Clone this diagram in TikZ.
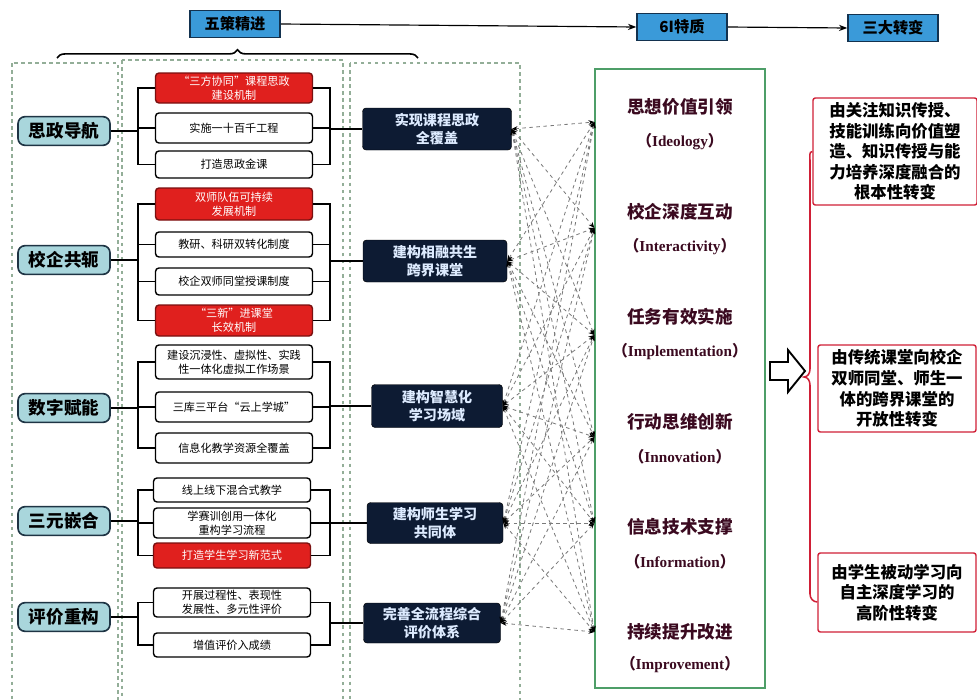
\documentclass[tikz,border=0pt]{standalone}
\usepackage{fontspec}
\setmainfont{Noto Sans CJK SC}
\newfontfamily\enserif{Liberation Serif}
\usetikzlibrary{arrows.meta,decorations.pathreplacing}
\definecolor{hdrfill}{HTML}{3A9AD9}
\definecolor{hdrdraw}{HTML}{13324F}
\definecolor{leftfill}{HTML}{A9D6DC}
\definecolor{leftdraw}{HTML}{1E3444}
\definecolor{redfill}{HTML}{E0201E}
\definecolor{reddraw}{HTML}{7A1010}
\definecolor{darkfill}{HTML}{0D1B33}
\definecolor{darktext}{HTML}{DDEBFF}
\definecolor{greenline}{HTML}{4E9E68}
\definecolor{dboxline}{HTML}{93AE98}
\definecolor{maroon}{HTML}{3B0A20}
\definecolor{redline}{HTML}{D01F36}
\definecolor{webline}{HTML}{7A7A7A}
\begin{document}
\begin{tikzpicture}[x=0.03cm,y=-0.03cm,
  hdr/.style={draw=hdrdraw,line width=1.3pt,fill=hdrfill,minimum width=2.7cm,minimum height=0.8cm,inner sep=1pt,font=\fontsize{13}{15}\bfseries\selectfont},
  leftnode/.style={draw=leftdraw,line width=1.4pt,fill=leftfill,rounded corners=6pt,minimum width=2.76cm,minimum height=0.86cm,inner sep=1pt,font=\fontsize{15}{17}\bfseries\selectfont},
  wbox/.style={draw=black,line width=1.2pt,fill=white,rounded corners=3pt,minimum width=4.71cm,inner sep=1pt,align=center,font=\fontsize{9.5}{12}\selectfont},
  rbox/.style={wbox,draw=reddraw,fill=redfill,text=white},
  dbox/.style={draw=black,fill=darkfill,rounded corners=3pt,text=darktext,inner sep=1pt,align=center,font=\fontsize{12}{15.5}\bfseries\selectfont},
  cont/.style={draw=dboxline,dashed,line width=0.9pt},
  bus/.style={draw=black,line width=1.1pt},
  web/.style={draw=webline,dashed,line width=0.7pt,{Stealth[length=5pt,width=4pt,black]}-{Stealth[length=5pt,width=4pt,black]}},
  cn/.style={text=maroon,font=\fontsize{15}{17}\bfseries\selectfont},
  en/.style={text=maroon,font=\fontsize{13}{15}\bfseries\selectfont},
  outbox/.style={draw=redline,line width=1.2pt,fill=white,rounded corners=2pt,align=center,inner sep=1pt,font=\fontsize{14}{17.6}\bfseries\selectfont}
]
\useasboundingbox (0,0) rectangle (977,700);
\fill[white] (0,0) rectangle (977,700);

% header
\node[hdr] (h1) at (235,24) {五策精进};
\node[hdr] (h2) at (682,27) {6I特质};
\node[hdr] (h3) at (893,28) {三大转变};
\draw[line width=1pt,-{Stealth[length=7pt]}] (h1.east) -- (h2.west);
\draw[line width=1pt,-{Stealth[length=7pt]}] (h2.east) -- (h3.west);
\coordinate (bra) at (57,58);
\coordinate (brb) at (418,58);
\draw[line width=1.4pt,decorate,decoration={brace,amplitude=7pt}] (bra) -- (brb);

% dashed containers
\draw[cont] (12,63) rectangle (118,712);
\draw[cont] (122,60) rectangle (343,712);
\draw[cont] (350,63) rectangle (520,712);

% left nodes
\node[leftnode] (l1) at (64,131) {思政导航};
\node[leftnode] (l2) at (64,260) {校企共轭};
\node[leftnode] (l3) at (64,408) {数字赋能};
\node[leftnode] (l4) at (64,521) {三元嵌合};
\node[leftnode] (l5) at (64,617) {评价重构};

% middle boxes
\node[rbox,minimum height=0.9cm] (m11) at (234,88) {“三方协同”课程思政\\建设机制};
\node[wbox,minimum height=0.9cm] (m12) at (234,128) {实施一十百千工程};
\node[wbox,minimum height=0.81cm] (m13) at (234,164.5) {打造思政金课};
\node[rbox,minimum height=0.96cm] (m21) at (234,204) {双师队伍可持续\\发展机制};
\node[wbox,minimum height=0.75cm] (m22) at (234,244.5) {教研、科研双转化制度};
\node[wbox,minimum height=0.81cm] (m23) at (234,281.5) {校企双师同堂授课制度};
\node[rbox,minimum height=0.93cm] (m24) at (234,320.5) {“三新”进课堂\\长效机制};
\node[wbox,minimum height=1.02cm] (m31) at (234,362) {建设沉浸性、虚拟性、实践\\性一体化虚拟工作场景};
\node[wbox,minimum height=0.9cm] (m32) at (234,407) {三库三平台“云上学城”};
\node[wbox,minimum height=0.9cm] (m33) at (234,448) {信息化教学资源全覆盖};
\node[wbox,minimum height=0.72cm] (m41) at (232,490) {线上线下混合式教学};
\node[wbox,minimum height=0.9cm] (m42) at (232,523) {学赛训创用一体化\\重构学习流程};
\node[rbox,minimum height=0.75cm] (m43) at (232,555.5) {打造学生学习新范式};
\node[wbox,minimum height=0.87cm] (m51) at (232,602.5) {开展过程性、表现性\\发展性、多元性评价};
\node[wbox,minimum height=0.72cm] (m52) at (232,645) {增值评价入成绩};

% dark boxes
\node[dbox,minimum width=4.47cm,minimum height=1.26cm] (d1) at (437,129) {实现课程思政\\全覆盖};
\node[dbox,minimum width=4.32cm,minimum height=1.26cm] (d2) at (435,261) {建构相融共生\\跨界课堂};
\node[dbox,minimum width=3.93cm,minimum height=1.29cm] (d3) at (437,406) {建构智慧化\\学习场域};
\node[dbox,minimum width=4.08cm,minimum height=1.23cm] (d4) at (435,523) {建构师生学习\\共同体};
\node[dbox,minimum width=4.11cm,minimum height=1.2cm] (d5) at (432,623) {完善全流程综合\\评价体系};

% buses
\coordinate (bl) at (138,0);
\coordinate (br) at (330,0);
\draw[bus] (l1.east) -- (l1.east -| bl);
\draw[bus] (m11.west) -- (m11.west -| bl) -- (m13.west -| bl) -- (m13.west);
\draw[bus] (m12.west) -- (m12.west -| bl);
\draw[bus] (m11.east) -- (m11.east -| br) -- (m13.east -| br) -- (m13.east);
\draw[bus] (m12.east) -- (m12.east -| br);
\draw[bus] (d1.west -| br) -- (d1.west);

\draw[bus] (l2.east) -- (l2.east -| bl);
\draw[bus] (m21.west) -- (m21.west -| bl) -- (m24.west -| bl) -- (m24.west);
\draw[bus] (m22.west) -- (m22.west -| bl);
\draw[bus] (m23.west) -- (m23.west -| bl);
\draw[bus] (m21.east) -- (m21.east -| br) -- (m24.east -| br) -- (m24.east);
\draw[bus] (m22.east) -- (m22.east -| br);
\draw[bus] (m23.east) -- (m23.east -| br);
\draw[bus] (d2.west -| br) -- (d2.west);

\draw[bus] (l3.east) -- (l3.east -| bl);
\draw[bus] (m31.west) -- (m31.west -| bl) -- (m33.west -| bl) -- (m33.west);
\draw[bus] (m32.west) -- (m32.west -| bl);
\draw[bus] (m31.east) -- (m31.east -| br) -- (m33.east -| br) -- (m33.east);
\draw[bus] (m32.east) -- (m32.east -| br);
\draw[bus] (d3.west -| br) -- (d3.west);

\draw[bus] (l4.east) -- (l4.east -| bl);
\draw[bus] (m41.west) -- (m41.west -| bl) -- (m43.west -| bl) -- (m43.west);
\draw[bus] (m42.west) -- (m42.west -| bl);
\draw[bus] (m41.east) -- (m41.east -| br) -- (m43.east -| br) -- (m43.east);
\draw[bus] (m42.east) -- (m42.east -| br);
\draw[bus] (d4.west -| br) -- (d4.west);

\draw[bus] (l5.east) -- (l5.east -| bl);
\draw[bus] (m51.west) -- (m51.west -| bl) -- (m52.west -| bl) -- (m52.west);
\draw[bus] (m51.east) -- (m51.east -| br) -- (m52.east -| br) -- (m52.east);
\draw[bus] (d5.west -| br) -- (d5.west);

% green box and 6I items
\node[draw=greenline,line width=1.1pt,minimum width=5.1cm,minimum height=18.57cm,inner sep=0pt] (g) at (680,378.5) {};
\node[cn] (i1) at (680,107) {思想价值引领};
\node[en] (e1) at (680,142) {（{\enserif Ideology}）};
\node[cn] (i2) at (680,212) {校企深度互动};
\node[en] (e2) at (680,247) {（{\enserif Interactivity}）};
\node[cn] (i3) at (680,317) {任务有效实施};
\node[en] (e3) at (680,352) {（{\enserif Implementation}）};
\node[cn] (i4) at (680,422) {行动思维创新};
\node[en] (e4) at (680,457) {（{\enserif Innovation}）};
\node[cn] (i5) at (680,527) {信息技术支撑};
\node[en] (e5) at (680,562) {（{\enserif Information}）};
\node[cn] (i6) at (680,632) {持续提升改进};
\node[en] (e6) at (680,665) {（{\enserif Improvement}）};

\coordinate (t1) at (g.west |- 0,122);
\coordinate (t2) at (g.west |- 0,228);
\coordinate (t3) at (g.west |- 0,335);
\coordinate (t4) at (g.west |- 0,437);
\coordinate (t5) at (g.west |- 0,523);
\coordinate (t6) at (g.west |- 0,632);
\foreach \s in {d1,d2,d3,d4,d5}{
  \foreach \t in {t1,t2,t3,t4,t5,t6}{
    \draw[web] (\s.east) -- (\t);
  }
}

% hollow arrow
\draw[line width=1.6pt,fill=white,line join=miter] (770,362) -- (788,362) -- (788,350) -- (805,371) -- (788,392) -- (788,380) -- (770,380) -- cycle;

% right boxes
\node[outbox,minimum width=4.92cm,minimum height=3.21cm] (r1) at (895,151.5) {由关注知识传授、\\技能训练向价值塑\\造、知识传授与能\\力培养深度融合的\\根本性转变};
\node[outbox,minimum width=4.74cm,minimum height=2.61cm] (r2) at (897,388.5) {由传统课堂向校企\\双师同堂、师生一\\体的跨界课堂的\\开放性转变};
\node[outbox,minimum width=4.74cm,minimum height=2.37cm] (r3) at (897,592.5) {由学生被动学习向\\自主深度学习的\\高阶性转变};

% red brace
\draw[redline,line width=1.3pt] (r1.west) to[out=180,in=90] (810,160) -- (810,369) to[out=-90,in=0] (804,377) to[out=0,in=90] (810,385) -- (810,594) to[out=-90,in=180] (r3.west |- 0,602);
\end{tikzpicture}
\end{document}
